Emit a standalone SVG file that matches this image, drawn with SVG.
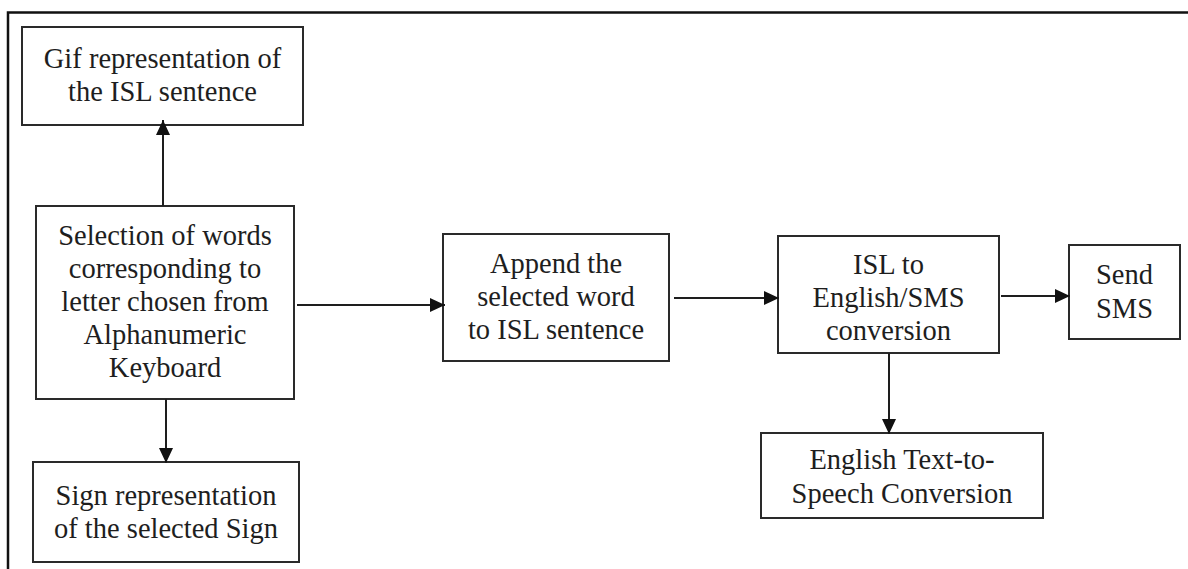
<svg xmlns="http://www.w3.org/2000/svg" width="1188" height="569" viewBox="0 0 1188 569">
  <style>
    .box { fill: #ffffff; stroke: #2a2a2a; stroke-width: 2; }
    .frame { fill: none; stroke: #111111; stroke-width: 2.5; }
    .label { font-family: 'Liberation Serif', 'Times New Roman', 'DejaVu Serif', serif; font-size: 28.5px; fill: #1e1e1e; text-anchor: middle; }
    .link { fill: none; stroke: #1e1e1e; stroke-width: 2; }
  </style>
  <defs>
    <marker id="arrow" markerUnits="userSpaceOnUse" markerWidth="16" markerHeight="14" refX="15" refY="7" orient="auto">
      <path d="M0,0 L15,7 L0,14 Z" fill="#111111"/>
    </marker>
  </defs>

  <rect width="1188" height="569" fill="#ffffff"/>

  <!-- page frame: top and left rules only -->
  <path class="frame" d="M8,569 L8,12.5 L1188,12.5"/>

  <g id="node-gif">
    <rect class="box" x="22" y="27" width="281" height="98"/>
    <text class="label" x="162.5" y="68">Gif representation of</text>
    <text class="label" x="162.5" y="101">the ISL sentence</text>
  </g>

  <g id="node-selection">
    <rect class="box" x="36" y="206" width="258" height="193"/>
    <text class="label" x="165" y="245">Selection of words</text>
    <text class="label" x="165" y="278">corresponding to</text>
    <text class="label" x="165" y="311">letter chosen from</text>
    <text class="label" x="165" y="344">Alphanumeric</text>
    <text class="label" x="165" y="377">Keyboard</text>
  </g>

  <g id="node-sign">
    <rect class="box" x="33" y="462" width="266" height="100"/>
    <text class="label" x="166" y="505">Sign representation</text>
    <text class="label" x="166" y="538">of the selected Sign</text>
  </g>

  <g id="node-append">
    <rect class="box" x="443" y="234" width="226" height="127"/>
    <text class="label" x="556" y="273">Append the</text>
    <text class="label" x="556" y="306">selected word</text>
    <text class="label" x="556" y="339">to ISL sentence</text>
  </g>

  <g id="node-convert">
    <rect class="box" x="778" y="236" width="221" height="117"/>
    <text class="label" x="888.5" y="274">ISL to</text>
    <text class="label" x="888.5" y="307">English/SMS</text>
    <text class="label" x="888.5" y="340">conversion</text>
  </g>

  <g id="node-sms">
    <rect class="box" x="1069" y="245" width="111" height="94"/>
    <text class="label" x="1124.5" y="284">Send</text>
    <text class="label" x="1124.5" y="318">SMS</text>
  </g>

  <g id="node-tts">
    <rect class="box" x="761" y="433" width="282" height="85"/>
    <text class="label" x="902" y="469">English Text-to-</text>
    <text class="label" x="902" y="503">Speech Conversion</text>
  </g>

  <g id="connectors">
    <line class="link" x1="163" y1="206" x2="163" y2="120" marker-end="url(#arrow)"/>
    <line class="link" x1="166" y1="399" x2="166" y2="463" marker-end="url(#arrow)"/>
    <line class="link" x1="297" y1="305" x2="445" y2="305" marker-end="url(#arrow)"/>
    <line class="link" x1="674" y1="298" x2="779" y2="298" marker-end="url(#arrow)"/>
    <line class="link" x1="1001" y1="296" x2="1070" y2="296" marker-end="url(#arrow)"/>
    <line class="link" x1="889" y1="353" x2="889" y2="434" marker-end="url(#arrow)"/>
  </g>
</svg>
